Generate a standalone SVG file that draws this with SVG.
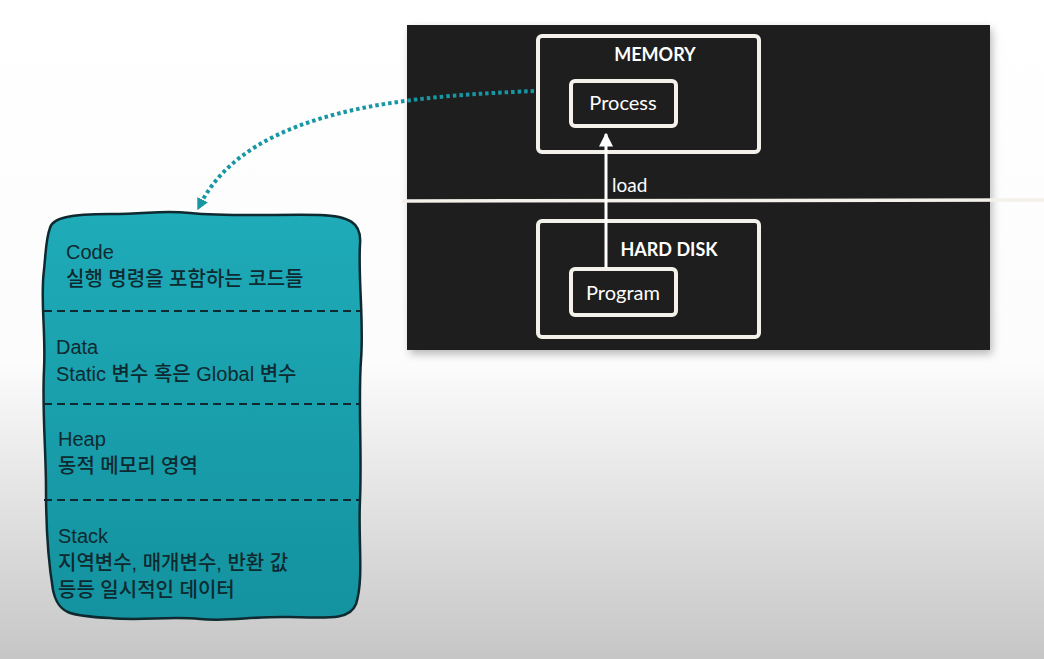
<svg xmlns="http://www.w3.org/2000/svg" width="1044" height="659" viewBox="0 0 1044 659">
<defs>
<linearGradient id="bg" x1="0" y1="0" x2="0" y2="1">
<stop offset="0" stop-color="#ffffff"/>
<stop offset="0.55" stop-color="#fcfcfc"/>
<stop offset="1" stop-color="#c6c6c6"/>
</linearGradient>
<linearGradient id="teal" x1="0" y1="0" x2="0" y2="1">
<stop offset="0" stop-color="#1fabb8"/>
<stop offset="1" stop-color="#14929f"/>
</linearGradient>
<filter id="sh" x="-10%" y="-10%" width="120%" height="120%">
<feGaussianBlur stdDeviation="4"/>
</filter>
<marker id="wa" viewBox="0 0 10 10" refX="9" refY="5" markerWidth="14" markerHeight="14" markerUnits="userSpaceOnUse" orient="auto">
<path d="M0,0 L10,5 L0,10 Z" fill="#ffffff"/>
</marker>
<marker id="ta" viewBox="0 0 10 10" refX="5" refY="5" markerWidth="12" markerHeight="12" markerUnits="userSpaceOnUse" orient="auto">
<path d="M0,0 L10,5 L0,10 Z" fill="#1797a3"/>
</marker>
<style>
.box{fill:#1e1e1e;stroke:#f4f1ea;stroke-width:4;stroke-linejoin:round}
.wt{font-family:"Lato","Open Sans","Noto Sans",sans-serif;fill:#ffffff}
.tt{font-family:"Liberation Sans","Noto Sans CJK KR",sans-serif;fill:#0e2a30;font-size:20px;font-weight:500}
.dash{stroke:#0e2a30;stroke-width:2;stroke-dasharray:8 5}
</style>
</defs>
<rect width="1044" height="659" fill="url(#bg)"/>
<g id="panel">
<rect x="410" y="29" width="582" height="325" fill="#888" opacity="0.6" filter="url(#sh)"/>
<rect x="407" y="25" width="583" height="325" fill="#1e1e1e"/>
<path d="M402,201 L1044,200" stroke="#f4f1ea" stroke-width="3.5" fill="none"/>
</g>
<g id="memory">
<rect class="box" x="538" y="36" width="221" height="116" rx="4"/>
<text class="wt" x="655" y="61" font-size="18" font-weight="bold" text-anchor="middle">MEMORY</text>
</g>
<g id="process">
<rect class="box" x="571" y="81" width="105" height="45" rx="4"/>
<text class="wt" x="623" y="110" font-size="20" text-anchor="middle">Process</text>
</g>
<g id="harddisk">
<rect class="box" x="538" y="221" width="221" height="116" rx="4"/>
<text class="wt" x="669" y="256" font-size="18" font-weight="bold" text-anchor="middle">HARD DISK</text>
</g>
<g id="program">
<rect class="box" x="571" y="269" width="105" height="46" rx="4"/>
<text class="wt" x="623" y="300" font-size="20" text-anchor="middle">Program</text>
</g>
<g id="connectors">
<path d="M606,268 L606,134" stroke="#ffffff" stroke-width="3" fill="none" marker-end="url(#wa)"/>
<text class="wt" x="612" y="192" font-size="19">load</text>
<path d="M534,91 C420,96 250,105 200,205" stroke="#1797a3" stroke-width="4" stroke-dasharray="3.5 3" fill="none" marker-end="url(#ta)"/>
</g>
<g id="segments">
<path d="M50,228 C52,218 70,214 110,214 C150,214 160,210 190,213 C230,217 280,214 320,215 C348,216 362,222 360,244 C358,280 364,320 361,360 C358,400 362,450 360,500 C358,540 364,580 356,604 C350,620 330,618 290,617 C250,616 230,622 200,619 C170,616 140,621 110,618 C70,616 58,614 53,590 C48,560 46,520 46,490 C46,450 42,410 44,370 C46,330 40,300 44,270 C46,250 46,238 50,228 Z" fill="url(#teal)" stroke="#0e2a30" stroke-width="2.5"/>
<line class="dash" x1="44" y1="311" x2="361" y2="311"/>
<line class="dash" x1="44" y1="404" x2="361" y2="404"/>
<line class="dash" x1="44" y1="500" x2="361" y2="500"/>
</g>
<g id="code">
<text class="tt" x="66" y="259">Code</text>
<text class="tt" x="66" y="286">실행 명령을 포함하는 코드들</text>
</g>
<g id="data">
<text class="tt" x="56" y="354">Data</text>
<text class="tt" x="56" y="381">Static 변수 혹은 Global 변수</text>
</g>
<g id="heap">
<text class="tt" x="58" y="446">Heap</text>
<text class="tt" x="58" y="473">동적 메모리 영역</text>
</g>
<g id="stack">
<text class="tt" x="58" y="543">Stack</text>
<text class="tt" x="58" y="570">지역변수, 매개변수, 반환 값</text>
<text class="tt" x="58" y="597">등등 일시적인 데이터</text>
</g>
</svg>
